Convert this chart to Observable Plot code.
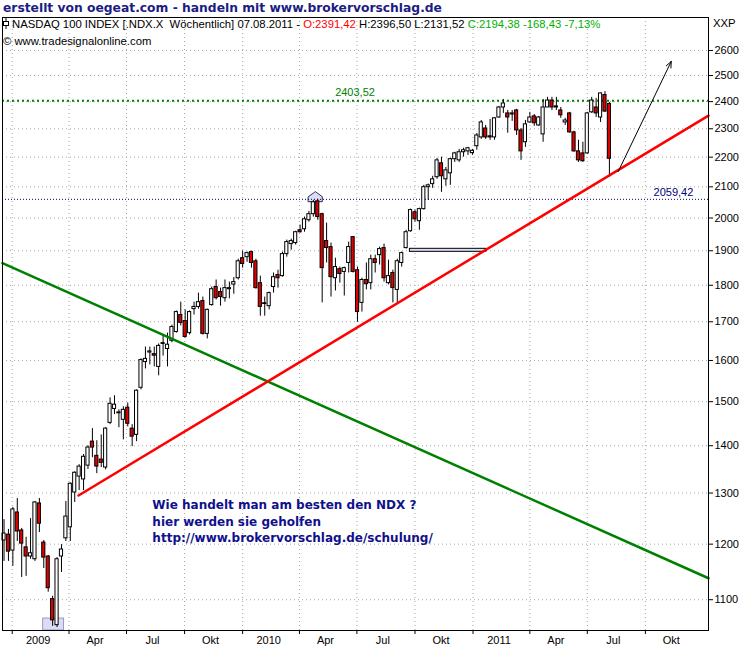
<!DOCTYPE html>
<html><head><meta charset="utf-8">
<script src="https://cdn.jsdelivr.net/npm/d3@7"></script>
<script src="https://cdn.jsdelivr.net/npm/@observablehq/plot@0.6"></script>
<style>
html,body{margin:0;padding:0;background:#fff;}
body{width:750px;height:650px;overflow:hidden;position:relative;font-family:"Liberation Sans",Arial,sans-serif;}
#title{position:absolute;left:3px;top:0px;font:bold 12.3px "DejaVu Sans",Verdana,sans-serif;color:#1c1c84;line-height:16px;white-space:pre;}
#chart{position:absolute;left:0;top:15px;}
.hdr{position:absolute;font:11.3px "Liberation Sans",Arial,sans-serif;line-height:13px;white-space:pre;color:#000;}
</style></head>
<body>
<div id="title">erstellt von oegeat.com - handeln mit www.brokervorschlag.de</div>
<div id="chart"></div>
<div class="hdr" id="h1" style="left:3px;top:18px;"></div>
<div class="hdr" id="h2" style="left:3px;top:35px;">© www.tradesignalonline.com</div>
<div class="hdr" id="xxp" style="left:713px;top:17px;">XXP</div>
<script>
// ---- data (weekly candles, NASDAQ 100, week ending Friday) ----
const firstWeek = "2008-12-19";
const lastWeek = "2011-08-05";
const open = [1207,1218,1188,1261,1226,1194,1177,1172,1279,1203,1177,1101,1057,1177,1211,1232,1301,1334,1328,1357,
1409,1378,1370,1353,1451,1483,1475,1458,1486,1438,1424,1533,1596,1620,1616,1584,1644,1629,1650,1673,
1718,1702,1670,1734,1740,1756,1668,1745,1795,1781,1764,1789,1802,1820,1878,1881,1896,1869,1806,1750,
1742,1795,1829,1826,1890,1920,1923,1962,1965,1993,2012,2053,2012,1929,1911,1820,1846,1838,1864,1941,
1843,1751,1815,1806,1875,1887,1908,1806,1835,1787,1864,1908,1959,2018,1990,2028,2099,2109,2132,2179,
2125,2145,2193,2189,2217,2220,2214,2238,2269,2301,2273,2269,2341,2378,2356,2352,2367,2294,2252,2323,
2345,2312,2280,2378,2404,2382,2367,2323,2356,2287,2220,2213,2213,2360,2378,2341,2425,2391.42];
const high = [1247,1228,1271,1289,1230,1213,1249,1283,1289,1207,1179,1106,1175,1199,1283,1321,1344,1359,1381,1400,
1438,1411,1424,1440,1509,1514,1481,1488,1497,1447,1528,1604,1634,1634,1634,1642,1665,1670,1691,1729,
1753,1732,1729,1753,1778,1767,1734,1795,1815,1792,1815,1809,1822,1875,1899,1896,1899,1875,1826,1767,
1781,1835,1843,1896,1932,1935,1959,1978,2003,2021,2056,2059.42,2015,1984,1923,1878,1852,1852,1926,1943,
1852,1820,1864,1887,1887,1911,1920,1872,1843,1875,1896,1962,2028,2025,2031,2105,2109,2135,2196,2200,
2165,2196,2217,2227,2231,2234,2227,2283,2330,2312,2334,2341,2382,2408,2367,2367,2371,2301,2330,2360,
2352,2345,2408,2416,2416,2416,2378,2338,2360,2291,2259,2252,2360,2416,2412,2432,2438,2396.50];
const low = [1168,1168,1159,1205,1139,1141,1172,1168,1222,1155,1113,1055,1053,1148,1205,1205,1281,1305,1305,1349,
1374,1340,1353,1348,1447,1470,1440,1413,1442,1398,1409,1528,1579,1589,1584,1562,1611,1584,1645,1670,
1689,1657,1665,1718,1734,1665,1655,1742,1759,1742,1753,1762,1775,1815,1849,1866,1849,1789,1715,1715,
1732,1778,1792,1823,1881,1902,1917,1953,1956,1987,2003,1993,1751,1864,1767,1784,1806,1770,1835,1835,
1699,1726,1787,1787,1835,1858,1809,1801,1751,1751,1852,1905,1956,1987,1962,2025,2056,2095,2125,2082,
2102,2105,2182,2182,2200,2206,2206,2224,2262,2262,2259,2259,2338,2356,2284,2327,2276,2189,2234,2320,
2309,2309,2252,2378,2367,2367,2338,2312,2284,2217,2182,2182,2210,2356,2341,2323,2360,2131.52];
const close = [1220,1186,1267,1224,1201,1177,1183,1281,1239,1175,1120,1065,1172,1190,1253,1319,1342,1355,1376,1396,
1396,1355,1363,1438,1495,1493,1473,1481,1449,1420,1526,1601,1604,1623,1612,1637,1642,1640,1686,1726,
1697,1660,1726,1740,1753,1668,1732,1789,1764,1767,1792,1792,1809,1869,1861,1893,1864,1792,1740,1748,
1778,1823,1820,1890,1926,1929,1956,1956,1996,2012,2050,2003,1849,1908,1823,1852,1832,1849,1911,1838,
1726,1815,1803,1875,1864,1905,1820,1826,1792,1869,1893,1956,2025,1996,2028,2099,2105,2125,2189,2135,
2155,2193,2213,2217,2224,2231,2222,2276,2323,2269,2269,2338,2378,2393,2341,2356,2294,2220,2316,2341,
2320,2341,2378,2404,2378,2378,2349,2330,2287,2220,2189,2186,2356,2404,2356,2431,2362.81,2194.38];

// axis ticks
const yTicks = [1100,1200,1300,1400,1500,1600,1700,1800,1900,2000,2100,2200,2300,2400,2500,2600];
const quarterDates = ["2009-01-01","2009-04-01","2009-07-01","2009-10-01","2010-01-01","2010-04-01","2010-07-01","2010-10-01","2011-01-01","2011-04-01","2011-07-01","2011-10-01"];
const quarterLabels = ["2009","Apr","Jul","Okt","2010","Apr","Jul","Okt","2011","Apr","Jul","Okt"];

// drawing tools / annotations (date, price)
const resistance = [2403.52];
const resistanceLabel = ["2403,52"];
const supportLevel = [2059.42];
const supportLabel = ["2059,42"];
const redTrendDates = ["2009-04-16","2012-01-09"];
const redTrendPrices = [1295, 2348];
const greenTrendDates = ["2008-12-16T14:00Z","2012-01-09"];
const greenTrendPrices = [1863.5, 1137.6];
const arrowDates = ["2011-08-19","2011-11-11"];
const arrowPrices = [2151, 2556];
const peakMarkerDates = ["2010-04-16","2010-04-27","2010-05-08"];
const peakMarkerTops = [2066.3, 2082.7, 2066.3];
const peakMarkerBase = 2050.2;
const lowMarkerDates = ["2009-02-19","2009-03-24"];
const lowMarkerPrices = [1068, 1048.2];
const rulerDates = ["2010-09-23","2011-01-22"];
const rulerPrices = [1896.8, 1905.8];
const noteLines = ["Wie handelt man am besten den NDX ?","hier werden sie geholfen","http://www.brokervorschlag.de/schulung/"];
const notePrices = [1274.7, 1242.2, 1211.6];
const noteDate = "2009-08-11";
const headerDate = "07.08.2011";

// ---- build ----
const D = s => new Date(s.length === 10 ? s + "T00:00Z" : s);
const weeks = d3.utcFriday.range(D(firstWeek), d3.utcDay.offset(D(lastWeek), 1));
const rows = weeks.map((date, i) => ({date, o: open[i], h: high[i], l: low[i], c: close[i]}));
const labelMap = new Map(quarterDates.map((d, i) => [+D(d), quarterLabels[i]]));

const last = rows[rows.length - 1], prev = rows[rows.length - 2];
const f2 = v => v.toFixed(2).replace(".", ",");
const chg = last.c - prev.c;
const pct = chg / prev.c * 100;
document.getElementById("h1").innerHTML =
  '<svg width="6" height="11" style="vertical-align:-1px;margin-right:3px"><line x1="3" y1="0" x2="3" y2="11" stroke="#000"/><rect x="0.5" y="3.5" width="5" height="4" fill="#fff" stroke="#000"/></svg>' +
  'NASDAQ 100 INDEX [.NDX.X  Wöchentlich] ' + headerDate + ' - ' +
  '<span style="color:#ff0000">O:' + f2(last.o) + '</span> H:' + f2(last.h) + ' L:' + f2(last.l) + ' ' +
  '<span style="color:#00b000">C:' + f2(last.c) + ' ' + f2(chg) + ' ' + f2(pct) + '%</span>';

const halfBody = 60; // hours
const chart = Plot.plot({
  width: 750, height: 635,
  marginLeft: 2, marginRight: 42, marginTop: 2, marginBottom: 20,
  x: {type: "utc", domain: [D("2008-12-16T14:00Z"), D("2012-01-09")]},
  y: {type: "log", domain: [1048.2, 2737.9]},
  style: {fontFamily: "'Liberation Sans', Arial, sans-serif", fontSize: "11px", background: "white", color: "black", overflow: "visible"},
  marks: [
    Plot.gridY(yTicks, {stroke: "#a8a8a8", strokeOpacity: 1, strokeDasharray: "1,3"}),
    Plot.gridX(quarterDates.map(D), {stroke: "#a8a8a8", strokeOpacity: 1, strokeDasharray: "1,3"}),
    Plot.rect([0], {x1: () => D(lowMarkerDates[0]), x2: () => D(lowMarkerDates[1]), y1: () => lowMarkerPrices[0], y2: () => lowMarkerPrices[1], fill: "#dcdcf6", stroke: "#9a9ac8", strokeWidth: 1}),
    Plot.area(peakMarkerDates.map((d, i) => ({date: D(d), top: peakMarkerTops[i]})), {x1: "date", y1: () => peakMarkerBase, y2: "top", fill: "#dcdcf6", stroke: "#303060", strokeWidth: 1}),
    Plot.ruleY(resistance, {stroke: "#008000", strokeWidth: 2, strokeDasharray: "2,3"}),
    Plot.ruleY(supportLevel, {stroke: "#000060", strokeWidth: 1, strokeDasharray: "1,2"}),
    Plot.rect([0], {x1: () => D(rulerDates[0]), x2: () => D(rulerDates[1]), y1: () => rulerPrices[0], y2: () => rulerPrices[1], fill: "#dcdcf6", stroke: "black", strokeWidth: 1}),
    Plot.ruleX(rows, {x: "date", y1: "l", y2: "h", stroke: "black", strokeWidth: 1}),
    Plot.rect(rows, {
      x1: d => d3.utcHour.offset(d.date, -halfBody),
      x2: d => d3.utcHour.offset(d.date, halfBody),
      y1: "o", y2: "c",
      fill: d => d.c >= d.o ? "white" : "#e00000",
      stroke: "black", strokeWidth: 1
    }),
    Plot.line(greenTrendDates.map((d, i) => ({date: D(d), p: greenTrendPrices[i]})), {x: "date", y: "p", stroke: "#008000", strokeWidth: 2.5}),
    Plot.line(redTrendDates.map((d, i) => ({date: D(d), p: redTrendPrices[i]})), {x: "date", y: "p", stroke: "#ff0000", strokeWidth: 2.5}),
    Plot.arrow([0], {x1: () => D(arrowDates[0]), y1: () => arrowPrices[0], x2: () => D(arrowDates[1]), y2: () => arrowPrices[1], stroke: "black", strokeWidth: 1, headLength: 10, headAngle: 45}),
    Plot.text(resistance, {x: () => D("2010-06-28"), y: d => d, text: (d, i) => resistanceLabel[i], dy: -8, fill: "#008000", fontSize: 11}),
    Plot.text(supportLevel, {x: () => D("2011-12-16"), y: d => d, text: (d, i) => supportLabel[i], dy: -7, textAnchor: "end", fill: "#000080", fontSize: 11}),
    Plot.text(noteLines, {x: () => D(noteDate), y: (d, i) => notePrices[i], text: d => d, textAnchor: "start", fill: "#10108c", fontSize: 12, fontWeight: "bold", fontFamily: "'DejaVu Sans', Verdana, sans-serif"}),
    Plot.axisY(yTicks, {anchor: "right", tickSize: 4, tickPadding: 2, tickFormat: d => String(d), label: null, fontSize: 11}),
    Plot.axisX(quarterDates.map(D), {tickSize: 4, tickFormat: () => "", label: null}),
    Plot.axisX(quarterDates.map(D), {tickSize: 0, tickPadding: 6, dx: 26, tickFormat: d => labelMap.get(+d), label: null, fontSize: 11}),
    Plot.frame({stroke: "black"})
  ]
});
document.getElementById("chart").appendChild(chart);
</script>
</body></html>
